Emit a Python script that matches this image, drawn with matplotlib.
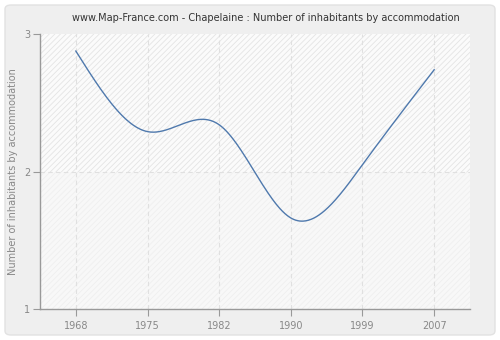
import numpy as np
import matplotlib
matplotlib.use("Agg")
import matplotlib.pyplot as plt
from matplotlib.patches import FancyBboxPatch

years = ["1968", "1975", "1982", "1990", "1999", "2007"]
values = [2.876, 2.29, 2.34, 1.662, 2.05, 2.74]
y_ticks = [1, 2, 3]
title = "www.Map-France.com - Chapelaine : Number of inhabitants by accommodation"
ylabel = "Number of inhabitants by accommodation"


def natural_spline(x, y, xs):
    x = np.asarray(x, float)
    y = np.asarray(y, float)
    n = len(x)
    h = np.diff(x)
    A = np.zeros((n, n))
    b = np.zeros(n)
    A[0, 0] = 1
    A[-1, -1] = 1
    for i in range(1, n - 1):
        A[i, i - 1] = h[i - 1]
        A[i, i] = 2 * (h[i - 1] + h[i])
        A[i, i + 1] = h[i]
        b[i] = 6 * ((y[i + 1] - y[i]) / h[i] - (y[i] - y[i - 1]) / h[i - 1])
    M = np.linalg.solve(A, b)
    out = np.empty_like(xs)
    for k, t in enumerate(xs):
        i = min(max(np.searchsorted(x, t) - 1, 0), n - 2)
        a = x[i + 1] - t
        c = t - x[i]
        out[k] = (M[i] * a**3 + M[i + 1] * c**3) / (6 * h[i]) \
            + (y[i] / h[i] - M[i] * h[i] / 6) * a \
            + (y[i + 1] / h[i] - M[i + 1] * h[i] / 6) * c
    return out


plt.rcParams['hatch.linewidth'] = 0.6
fig = plt.figure(figsize=(5, 3.4), dpi=100)
fig.patch.set_facecolor("white")
bg = FancyBboxPatch((5 / 500, 5 / 340), 490 / 500, 330 / 340,
                    boxstyle="round,pad=0,rounding_size=0.012",
                    transform=fig.transFigure, facecolor="#efefef",
                    edgecolor="#e2e2e2", linewidth=1, zorder=-10)
fig.patches.append(bg)

ax = fig.add_axes([40 / 500, 31 / 340, 430 / 500, 275 / 340])
ax.set_facecolor("#fbfbfb")
xi = np.arange(len(years))
ax.set_xlim(-0.5, len(years) - 0.5)
ax.set_ylim(1, 3)

# hatched bands
ax.axhspan(2, 3, facecolor="#fbfbfb", edgecolor="#e4e4e4", hatch="//////", linewidth=0, zorder=0)
ax.axhspan(1, 2, facecolor="#f8f8f8", edgecolor="#efefef", hatch="//////", linewidth=0, zorder=0)

for x in xi:
    ax.axvline(x, color="#e0e0e0", linestyle=(0, (4, 3)), linewidth=0.8, zorder=1)
ax.axhline(2, color="#e0e0e0", linestyle=(0, (4, 3)), linewidth=0.8, zorder=1)

xs = np.linspace(0, len(years) - 1, 400)
ax.plot(xs, natural_spline(xi, values, xs), color="#4f79ad", linewidth=1.0, zorder=3)

ax.set_xticks(xi)
ax.set_xticklabels(years)
ax.set_yticks(y_ticks)
ax.tick_params(axis="both", colors="#999999", labelcolor="#888888", labelsize=7, length=5, width=0.8)
ax.tick_params(axis="y", length=5, pad=2)
for s in ["top", "right"]:
    ax.spines[s].set_visible(False)
for s in ["left", "bottom"]:
    ax.spines[s].set_color("#999999")
    ax.spines[s].set_linewidth(1.0)

ax.set_ylabel(ylabel, fontsize=7, color="#888888", labelpad=4)
fig.text(266 / 500, 1 - 18 / 340, title, ha="center", va="center", fontsize=7, color="#333333")

fig.savefig("out.png", dpi=100, facecolor=fig.get_facecolor())
